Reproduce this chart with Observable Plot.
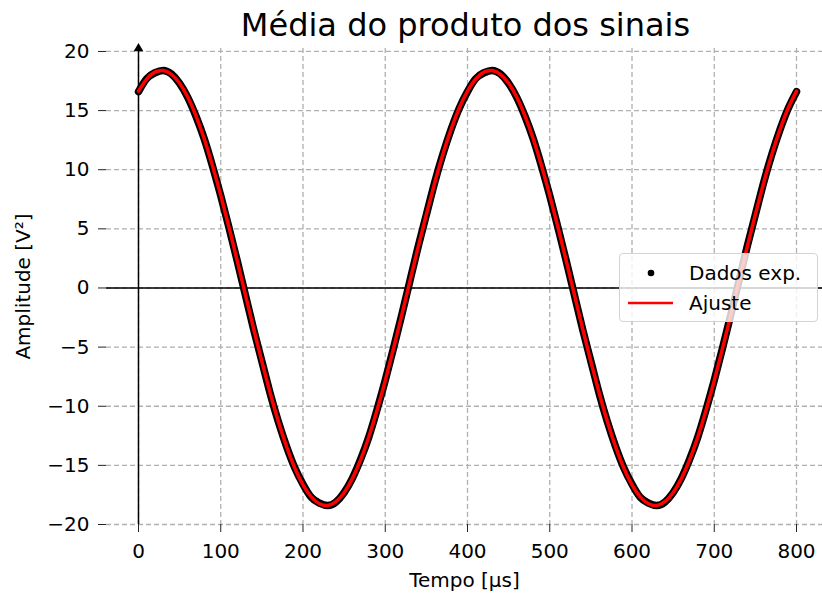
<!DOCTYPE html>
<html>
<head>
<meta charset="utf-8">
<script src="https://cdn.jsdelivr.net/npm/d3@7"></script>
<script src="https://cdn.jsdelivr.net/npm/@observablehq/plot@0.6"></script>
<style>
  body { margin: 0; background: #fff; font-family: "DejaVu Sans", sans-serif; }
  #wrap { position: relative; width: 822px; height: 594px; }
  .legend {
    position: absolute; left: 619px; top: 253px; width: 199px; height: 69px;
    box-sizing: border-box; background: rgba(255,255,255,0.8);
    border: 1px solid #d4d4d4; border-radius: 4px;
  }
  .legend svg { position: absolute; left: 0; top: 0; }
</style>
</head>
<body>
<div id="wrap"></div>
<script>
// Time samples (µs)
const tempo = [
  0, 10, 20, 30, 40, 50, 60, 70, 80, 90,
  100, 110, 120, 130, 140, 150, 160, 170, 180, 190,
  200, 210, 220, 230, 240, 250, 260, 270, 280, 290,
  300, 310, 320, 330, 340, 350, 360, 370, 380, 390,
  400, 410, 420, 430, 440, 450, 460, 470, 480, 490,
  500, 510, 520, 530, 540, 550, 560, 570, 580, 590,
  600, 610, 620, 630, 640, 650, 660, 670, 680, 690,
  700, 710, 720, 730, 740, 750, 760, 770, 780, 790,
  800
];

// Measured mean of the signal product (V²)
const dados = [
  16.6, 17.7, 18.2, 18.4, 18.1, 17.3, 16.1, 14.5, 12.6, 10.3,
  7.8, 5.1, 2.3, -0.6, -3.5, -6.2, -8.9, -11.3, -13.4, -15.2,
  -16.6, -17.7, -18.2, -18.4, -18.1, -17.3, -16.1, -14.5, -12.6, -10.3,
  -7.8, -5.1, -2.3, 0.6, 3.5, 6.2, 8.9, 11.3, 13.4, 15.2,
  16.6, 17.7, 18.2, 18.4, 18.1, 17.3, 16.1, 14.5, 12.6, 10.3,
  7.8, 5.1, 2.3, -0.6, -3.5, -6.2, -8.9, -11.3, -13.4, -15.2,
  -16.6, -17.7, -18.2, -18.4, -18.1, -17.3, -16.1, -14.5, -12.6, -10.3,
  -7.8, -5.1, -2.3, 0.6, 3.5, 6.2, 8.9, 11.3, 13.4, 15.2,
  16.6
];

// Fitted curve (V²)
const ajuste = [
  16.65, 17.67, 18.25, 18.39, 18.07, 17.31, 16.12, 14.54, 12.60, 10.34,
  7.83, 5.13, 2.31, -0.58, -3.45, -6.23, -8.86, -11.28, -13.41, -15.22,
  -16.65, -17.67, -18.25, -18.39, -18.07, -17.31, -16.12, -14.54, -12.60, -10.34,
  -7.83, -5.13, -2.31, 0.58, 3.45, 6.23, 8.86, 11.28, 13.41, 15.22,
  16.65, 17.67, 18.25, 18.39, 18.07, 17.31, 16.12, 14.54, 12.60, 10.34,
  7.83, 5.13, 2.31, -0.58, -3.45, -6.23, -8.86, -11.28, -13.41, -15.22,
  -16.65, -17.67, -18.25, -18.39, -18.07, -17.31, -16.12, -14.54, -12.60, -10.34,
  -7.83, -5.13, -2.31, 0.58, 3.45, 6.23, 8.86, 11.28, 13.41, 15.22,
  16.65
];

const xTicks = [0, 100, 200, 300, 400, 500, 600, 700, 800];
const yTicks = [-20, -15, -10, -5, 0, 5, 10, 15, 20];

const titulo = "Média do produto dos sinais";
const rotuloX = "Tempo [µs]";
const rotuloY = "Amplitude [V²]";
const legendaDados = "Dados exp.";
const legendaAjuste = "Ajuste";

const tabela = tempo.map((t, i) => ({t, dados: dados[i], ajuste: ajuste[i]}));

const yTop = 20.25;
const gridStyle = {stroke: "#b0b0b0", strokeOpacity: 1, strokeWidth: 1.3, strokeDasharray: "5,3"};

const chart = Plot.plot({
  width: 822,
  height: 594,
  marginLeft: 106,
  marginRight: 0,
  marginTop: 48,
  marginBottom: 70,
  style: {fontFamily: "DejaVu Sans, sans-serif", fontSize: "20px", color: "#000", background: "#fff", overflow: "visible"},
  x: {domain: [-38.9, 831.6]},
  y: {domain: [-20, yTop]},
  marks: [
    Plot.gridX(xTicks, gridStyle),
    Plot.gridY(yTicks, gridStyle),
    Plot.ruleY([0], {stroke: "#000", strokeWidth: 1.5}),
    Plot.ruleX([0], {y1: -20, y2: yTop, stroke: "#000", strokeWidth: 1.5}),
    Plot.dot([0], {x: d => d, y: () => yTop, symbol: "triangle", fill: "#000", stroke: null, r: 3.6}),
    Plot.line(tabela, {x: "t", y: "dados", stroke: "#000", strokeWidth: 7.5, curve: "natural", strokeLinecap: "round", strokeLinejoin: "round"}),
    Plot.line(tabela, {x: "t", y: "ajuste", stroke: "#ff0000", strokeWidth: 3.5, curve: "natural"}),
    Plot.axisX(xTicks, {
      tickSize: 8, tickPadding: 11, stroke: "#222", fontSize: 20, tickFormat: d => d,
      label: rotuloX, labelAnchor: "center", labelArrow: "none", labelOffset: 62
    }),
    Plot.axisY(yTicks, {
      tickSize: 8, tickPadding: 9, stroke: "#222", fontSize: 20,
      label: rotuloY, labelAnchor: "center", labelArrow: "none", labelOffset: 91
    }),
    Plot.text([titulo], {text: d => d, frameAnchor: "top", lineAnchor: "middle", dy: -23, dx: 1, fontSize: 32})
  ]
});

const wrap = document.getElementById("wrap");
wrap.appendChild(chart);

// Legend box
const legenda = document.createElement("div");
legenda.className = "legend";
legenda.innerHTML = `
<svg width="199" height="69" font-family="DejaVu Sans, sans-serif" font-size="20">
  <circle cx="31" cy="19" r="3.3" fill="#000"></circle>
  <text x="69" y="19" dominant-baseline="central" fill="#000">${legendaDados}</text>
  <line x1="8" x2="53" y1="49" y2="49" stroke="#ff0000" stroke-width="2.5"></line>
  <text x="69" y="49" dominant-baseline="central" fill="#000">${legendaAjuste}</text>
</svg>`;
wrap.appendChild(legenda);
</script>
</body>
</html>
